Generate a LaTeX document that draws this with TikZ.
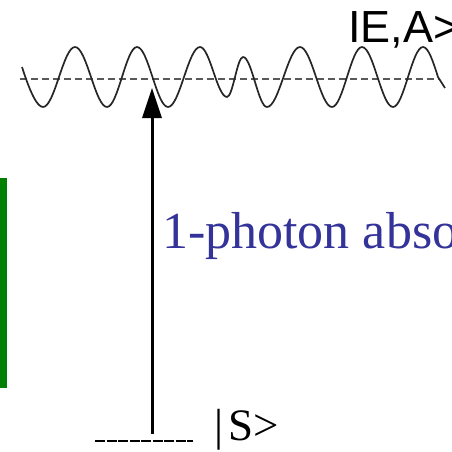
\documentclass[tikz,border=0pt]{standalone}
\usepackage{fontspec}
\setmainfont{Liberation Serif}
\newfontfamily\ketsans{Liberation Sans}
\usetikzlibrary{arrows.meta,positioning}
\definecolor{absblue}{RGB}{51,51,153}
\definecolor{bargreen}{RGB}{0,128,0}

\begin{document}
\begin{tikzpicture}[x=1pt,y=-1pt,
    level/.style={dash pattern=on 7pt off 4pt, gray!70!black, line width=1.6pt},
    groundlevel/.style={line width=2.4pt, dash pattern=on 10pt off 1.5pt},
    wave/.style={line width=1.7pt, black!85}]
      \clip (0,0) rectangle (452,451);

      % Bande verte
      \fill[bargreen] (0,178) rectangle (7,388);

      % Continuum
      \draw[level] (20,79) coordinate (c0) -- (440,79) coordinate (c1);
      \draw[wave] (22,67) .. controls (30,92) and (37,107) .. (43,107)
        cos (59,77) sin (75,47) cos (91,77) sin (107,107)
        cos (122,77) sin (137,47) cos (152.5,77) sin (168,107)
        cos (184,77) sin (200,47) cos (213.5,72) sin (227,97)
        cos (235,77) sin (243,57) cos (255,82) sin (267,107)
        cos (283.5,77) sin (300,47) cos (316,77) sin (332,107)
        cos (347,77) sin (362,47) cos (377.5,77) sin (393,107)
        cos (408,77) sin (423,47) cos (438,77) -- (445,88);
      \node[anchor=base west, inner sep=0, font=\ketsans\fontsize{45}{50}\selectfont] (ea) at (348,42) {IE,A>};

      % Etat fondamental
      \draw[groundlevel] (95,441) coordinate (g0) -- (193,441) coordinate (g1);
      \coordinate (gs) at (152,434);
      \coordinate (top) at (152,88);
      \node[anchor=base west, inner sep=0, font=\fontsize{45}{50}\selectfont] (s) at (214,440) {|\kern5pt S>};

      % Absorption
      \draw[line width=3pt, -{Triangle[width=19pt,length=30pt]}] (gs) -- (top);
      \node[anchor=base west, inner sep=0, text=absblue, font=\fontsize{52}{56}\selectfont] (abs) at (162,248) {1-photon abso};
    \end{tikzpicture}
\end{document}
